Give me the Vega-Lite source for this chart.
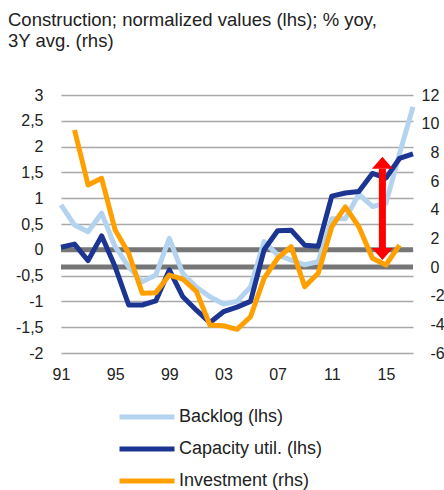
{
  "$schema": "https://vega.github.io/schema/vega-lite/v6.json",
  "width": 352,
  "height": 258,
  "autosize": {"type": "none"},
  "padding": {"left": 61, "top": 95, "right": 31, "bottom": 137},
  "background": "white",
  "title": {
    "text": ["Construction; normalized values (lhs); % yoy,", "3Y avg. (rhs)"],
    "anchor": "start",
    "frame": "group",
    "dx": -53,
    "offset": 37,
    "fontSize": 18.5,
    "fontWeight": "normal",
    "font": "Liberation Sans",
    "color": "#222222",
    "lineHeight": 20.5
  },
  "config": {
    "view": {"stroke": null},
    "axis": {
      "labelFont": "Liberation Sans",
      "labelFontSize": 16,
      "labelColor": "#222222",
      "ticks": false,
      "domain": false,
      "title": null,
      "labelOverlap": false,
      "labelFlush": false
    }
  },
  "datasets": {
    "lhs": [
      {"year": 1991, "series": "Backlog (lhs)", "value": 0.87},
      {"year": 1992, "series": "Backlog (lhs)", "value": 0.48},
      {"year": 1993, "series": "Backlog (lhs)", "value": 0.35},
      {"year": 1994, "series": "Backlog (lhs)", "value": 0.71},
      {"year": 1995, "series": "Backlog (lhs)", "value": 0.06},
      {"year": 1996, "series": "Backlog (lhs)", "value": -0.33},
      {"year": 1997, "series": "Backlog (lhs)", "value": -0.62},
      {"year": 1998, "series": "Backlog (lhs)", "value": -0.49},
      {"year": 1999, "series": "Backlog (lhs)", "value": 0.22},
      {"year": 2000, "series": "Backlog (lhs)", "value": -0.46},
      {"year": 2001, "series": "Backlog (lhs)", "value": -0.72},
      {"year": 2002, "series": "Backlog (lhs)", "value": -0.91},
      {"year": 2003, "series": "Backlog (lhs)", "value": -1.05},
      {"year": 2004, "series": "Backlog (lhs)", "value": -1.0},
      {"year": 2005, "series": "Backlog (lhs)", "value": -0.72},
      {"year": 2006, "series": "Backlog (lhs)", "value": 0.16},
      {"year": 2007, "series": "Backlog (lhs)", "value": -0.1},
      {"year": 2008, "series": "Backlog (lhs)", "value": -0.2},
      {"year": 2009, "series": "Backlog (lhs)", "value": -0.29},
      {"year": 2010, "series": "Backlog (lhs)", "value": -0.23},
      {"year": 2011, "series": "Backlog (lhs)", "value": 0.6},
      {"year": 2012, "series": "Backlog (lhs)", "value": 0.6},
      {"year": 2013, "series": "Backlog (lhs)", "value": 1.08},
      {"year": 2014, "series": "Backlog (lhs)", "value": 0.84},
      {"year": 2015, "series": "Backlog (lhs)", "value": 0.9},
      {"year": 2016, "series": "Backlog (lhs)", "value": 1.86},
      {"year": 2017, "series": "Backlog (lhs)", "value": 2.77},
      {"year": 1991, "series": "Capacity util. (lhs)", "value": 0.05},
      {"year": 1992, "series": "Capacity util. (lhs)", "value": 0.11},
      {"year": 1993, "series": "Capacity util. (lhs)", "value": -0.21},
      {"year": 1994, "series": "Capacity util. (lhs)", "value": 0.27},
      {"year": 1995, "series": "Capacity util. (lhs)", "value": -0.33},
      {"year": 1996, "series": "Capacity util. (lhs)", "value": -1.07},
      {"year": 1997, "series": "Capacity util. (lhs)", "value": -1.07},
      {"year": 1998, "series": "Capacity util. (lhs)", "value": -0.99},
      {"year": 1999, "series": "Capacity util. (lhs)", "value": -0.39},
      {"year": 2000, "series": "Capacity util. (lhs)", "value": -0.91},
      {"year": 2001, "series": "Capacity util. (lhs)", "value": -1.17},
      {"year": 2002, "series": "Capacity util. (lhs)", "value": -1.41},
      {"year": 2003, "series": "Capacity util. (lhs)", "value": -1.2},
      {"year": 2004, "series": "Capacity util. (lhs)", "value": -1.11},
      {"year": 2005, "series": "Capacity util. (lhs)", "value": -1.0},
      {"year": 2006, "series": "Capacity util. (lhs)", "value": 0.0},
      {"year": 2007, "series": "Capacity util. (lhs)", "value": 0.37},
      {"year": 2008, "series": "Capacity util. (lhs)", "value": 0.38},
      {"year": 2009, "series": "Capacity util. (lhs)", "value": 0.09},
      {"year": 2010, "series": "Capacity util. (lhs)", "value": 0.07},
      {"year": 2011, "series": "Capacity util. (lhs)", "value": 1.04},
      {"year": 2012, "series": "Capacity util. (lhs)", "value": 1.1},
      {"year": 2013, "series": "Capacity util. (lhs)", "value": 1.13},
      {"year": 2014, "series": "Capacity util. (lhs)", "value": 1.48},
      {"year": 2015, "series": "Capacity util. (lhs)", "value": 1.39},
      {"year": 2016, "series": "Capacity util. (lhs)", "value": 1.77},
      {"year": 2017, "series": "Capacity util. (lhs)", "value": 1.86}
    ],
    "rhs": [
      {"year": 1992, "series": "Investment (rhs)", "value": 9.56},
      {"year": 1993, "series": "Investment (rhs)", "value": 5.72},
      {"year": 1994, "series": "Investment (rhs)", "value": 6.19},
      {"year": 1995, "series": "Investment (rhs)", "value": 2.58},
      {"year": 1996, "series": "Investment (rhs)", "value": 0.96},
      {"year": 1997, "series": "Investment (rhs)", "value": -1.83},
      {"year": 1998, "series": "Investment (rhs)", "value": -1.8},
      {"year": 1999, "series": "Investment (rhs)", "value": -0.56},
      {"year": 2000, "series": "Investment (rhs)", "value": -0.85},
      {"year": 2001, "series": "Investment (rhs)", "value": -1.7},
      {"year": 2002, "series": "Investment (rhs)", "value": -4.05},
      {"year": 2003, "series": "Investment (rhs)", "value": -4.1},
      {"year": 2004, "series": "Investment (rhs)", "value": -4.35},
      {"year": 2005, "series": "Investment (rhs)", "value": -3.47},
      {"year": 2006, "series": "Investment (rhs)", "value": -0.79},
      {"year": 2007, "series": "Investment (rhs)", "value": 0.61},
      {"year": 2008, "series": "Investment (rhs)", "value": 1.42},
      {"year": 2009, "series": "Investment (rhs)", "value": -1.37},
      {"year": 2010, "series": "Investment (rhs)", "value": -0.44},
      {"year": 2011, "series": "Investment (rhs)", "value": 2.81},
      {"year": 2012, "series": "Investment (rhs)", "value": 4.2},
      {"year": 2013, "series": "Investment (rhs)", "value": 2.81},
      {"year": 2014, "series": "Investment (rhs)", "value": 0.61},
      {"year": 2015, "series": "Investment (rhs)", "value": 0.14},
      {"year": 2016, "series": "Investment (rhs)", "value": 1.53}
    ],
    "zero": [{"v": 0}],
    "arrow": [{"year": 2014.74, "low": 0.035, "high": 1.57}]
  },
  "layer": [
    {
      "data": {"name": "zero"},
      "mark": {"type": "rule", "color": "#767676", "strokeWidth": 5},
      "encoding": {
        "y": {
          "field": "v",
          "type": "quantitative",
          "scale": {"domain": [-6, 12], "nice": false, "zero": false},
          "axis": {
            "orient": "right",
            "values": [-6, -4, -2, 0, 2, 4, 6, 8, 10, 12],
            "grid": false,
            "labelPadding": 17,
            "labelAlign": {"condition": {"test": "datum.value >= 10", "value": "center"}, "value": "left"},
            "labelExpr": "toString(datum.value)"
          }
        }
      }
    },
    {
      "layer": [
        {
          "data": {"name": "zero"},
          "mark": {"type": "rule", "color": "#767676", "strokeWidth": 5},
          "encoding": {
            "y": {
              "field": "v",
              "type": "quantitative",
              "scale": {"domain": [-2, 3], "nice": false, "zero": false},
              "axis": {
                "orient": "left",
                "values": [-2, -1.5, -1, -0.5, 0, 0.5, 1, 1.5, 2, 2.5, 3],
                "labelExpr": "replace(toString(datum.value), '.', ',')",
                "labelPadding": 18,
                "grid": true,
                "gridColor": "#a8a8a8",
                "gridWidth": 1.5
              }
            }
          }
        },
        {
          "data": {"name": "lhs"},
          "mark": {"type": "line", "strokeWidth": 5, "strokeJoin": "round"},
          "encoding": {
            "x": {
              "field": "year",
              "type": "quantitative",
              "scale": {"domain": [1991, 2017], "nice": false, "zero": false},
              "axis": {
                "orient": "bottom",
                "values": [1991, 1995, 1999, 2003, 2007, 2011, 2015],
                "labelExpr": "substring(toString(datum.value), 2, 4)",
                "labelPadding": 13,
                "grid": false
              }
            },
            "y": {
              "field": "value",
              "type": "quantitative",
              "scale": {"domain": [-2, 3], "nice": false, "zero": false},
              "axis": {
                "orient": "left",
                "values": [-2, -1.5, -1, -0.5, 0, 0.5, 1, 1.5, 2, 2.5, 3],
                "labelExpr": "replace(toString(datum.value), '.', ',')",
                "labelPadding": 18,
                "grid": true,
                "gridColor": "#a8a8a8",
                "gridWidth": 1.5
              }
            },
            "color": {
              "field": "series",
              "type": "nominal",
              "scale": {
                "domain": ["Backlog (lhs)", "Capacity util. (lhs)", "Investment (rhs)"],
                "range": ["#b4d3ef", "#1d3592", "#ffa000"]
              },
              "legend": {
                "orient": "none",
                "legendX": 56,
                "legendY": 306,
                "direction": "vertical",
                "symbolType": "stroke",
                "symbolSize": 3025,
                "symbolStrokeWidth": 5,
                "labelFontSize": 18,
                "labelFont": "Liberation Sans",
                "labelColor": "#222222",
                "clipHeight": 32,
                "rowPadding": 0,
                "title": null,
                "labelOffset": 2,
                "padding": 0,
                "labelLimit": 300
              }
            }
          }
        }
      ]
    },
    {
      "data": {"name": "rhs"},
      "mark": {"type": "line", "strokeWidth": 5, "strokeJoin": "round"},
      "encoding": {
        "x": {"field": "year", "type": "quantitative"},
        "y": {
          "field": "value",
          "type": "quantitative",
          "scale": {"domain": [-6, 12], "nice": false, "zero": false},
          "axis": null
        },
        "color": {"field": "series", "type": "nominal"}
      }
    },
    {
      "data": {"name": "arrow"},
      "layer": [
        {
          "mark": {"type": "rule", "color": "#ff0000", "strokeWidth": 7},
          "encoding": {
            "x": {"field": "year", "type": "quantitative"},
            "y": {
              "field": "low",
              "type": "quantitative",
              "scale": {"domain": [-2, 3], "nice": false, "zero": false},
              "axis": null
            },
            "y2": {"field": "high"}
          }
        },
        {
          "mark": {"type": "point", "shape": "M-1,0L0,-1.15L1,0Z", "size": 441, "filled": true, "color": "#ff0000", "opacity": 1, "strokeWidth": 0},
          "encoding": {
            "x": {"field": "year", "type": "quantitative"},
            "y": {"field": "high", "type": "quantitative"}
          }
        },
        {
          "mark": {"type": "point", "shape": "M-1,0L0,1.15L1,0Z", "size": 441, "filled": true, "color": "#ff0000", "opacity": 1, "strokeWidth": 0},
          "encoding": {
            "x": {"field": "year", "type": "quantitative"},
            "y": {"field": "low", "type": "quantitative"}
          }
        }
      ]
    }
  ],
  "resolve": {"scale": {"y": "independent"}}
}
